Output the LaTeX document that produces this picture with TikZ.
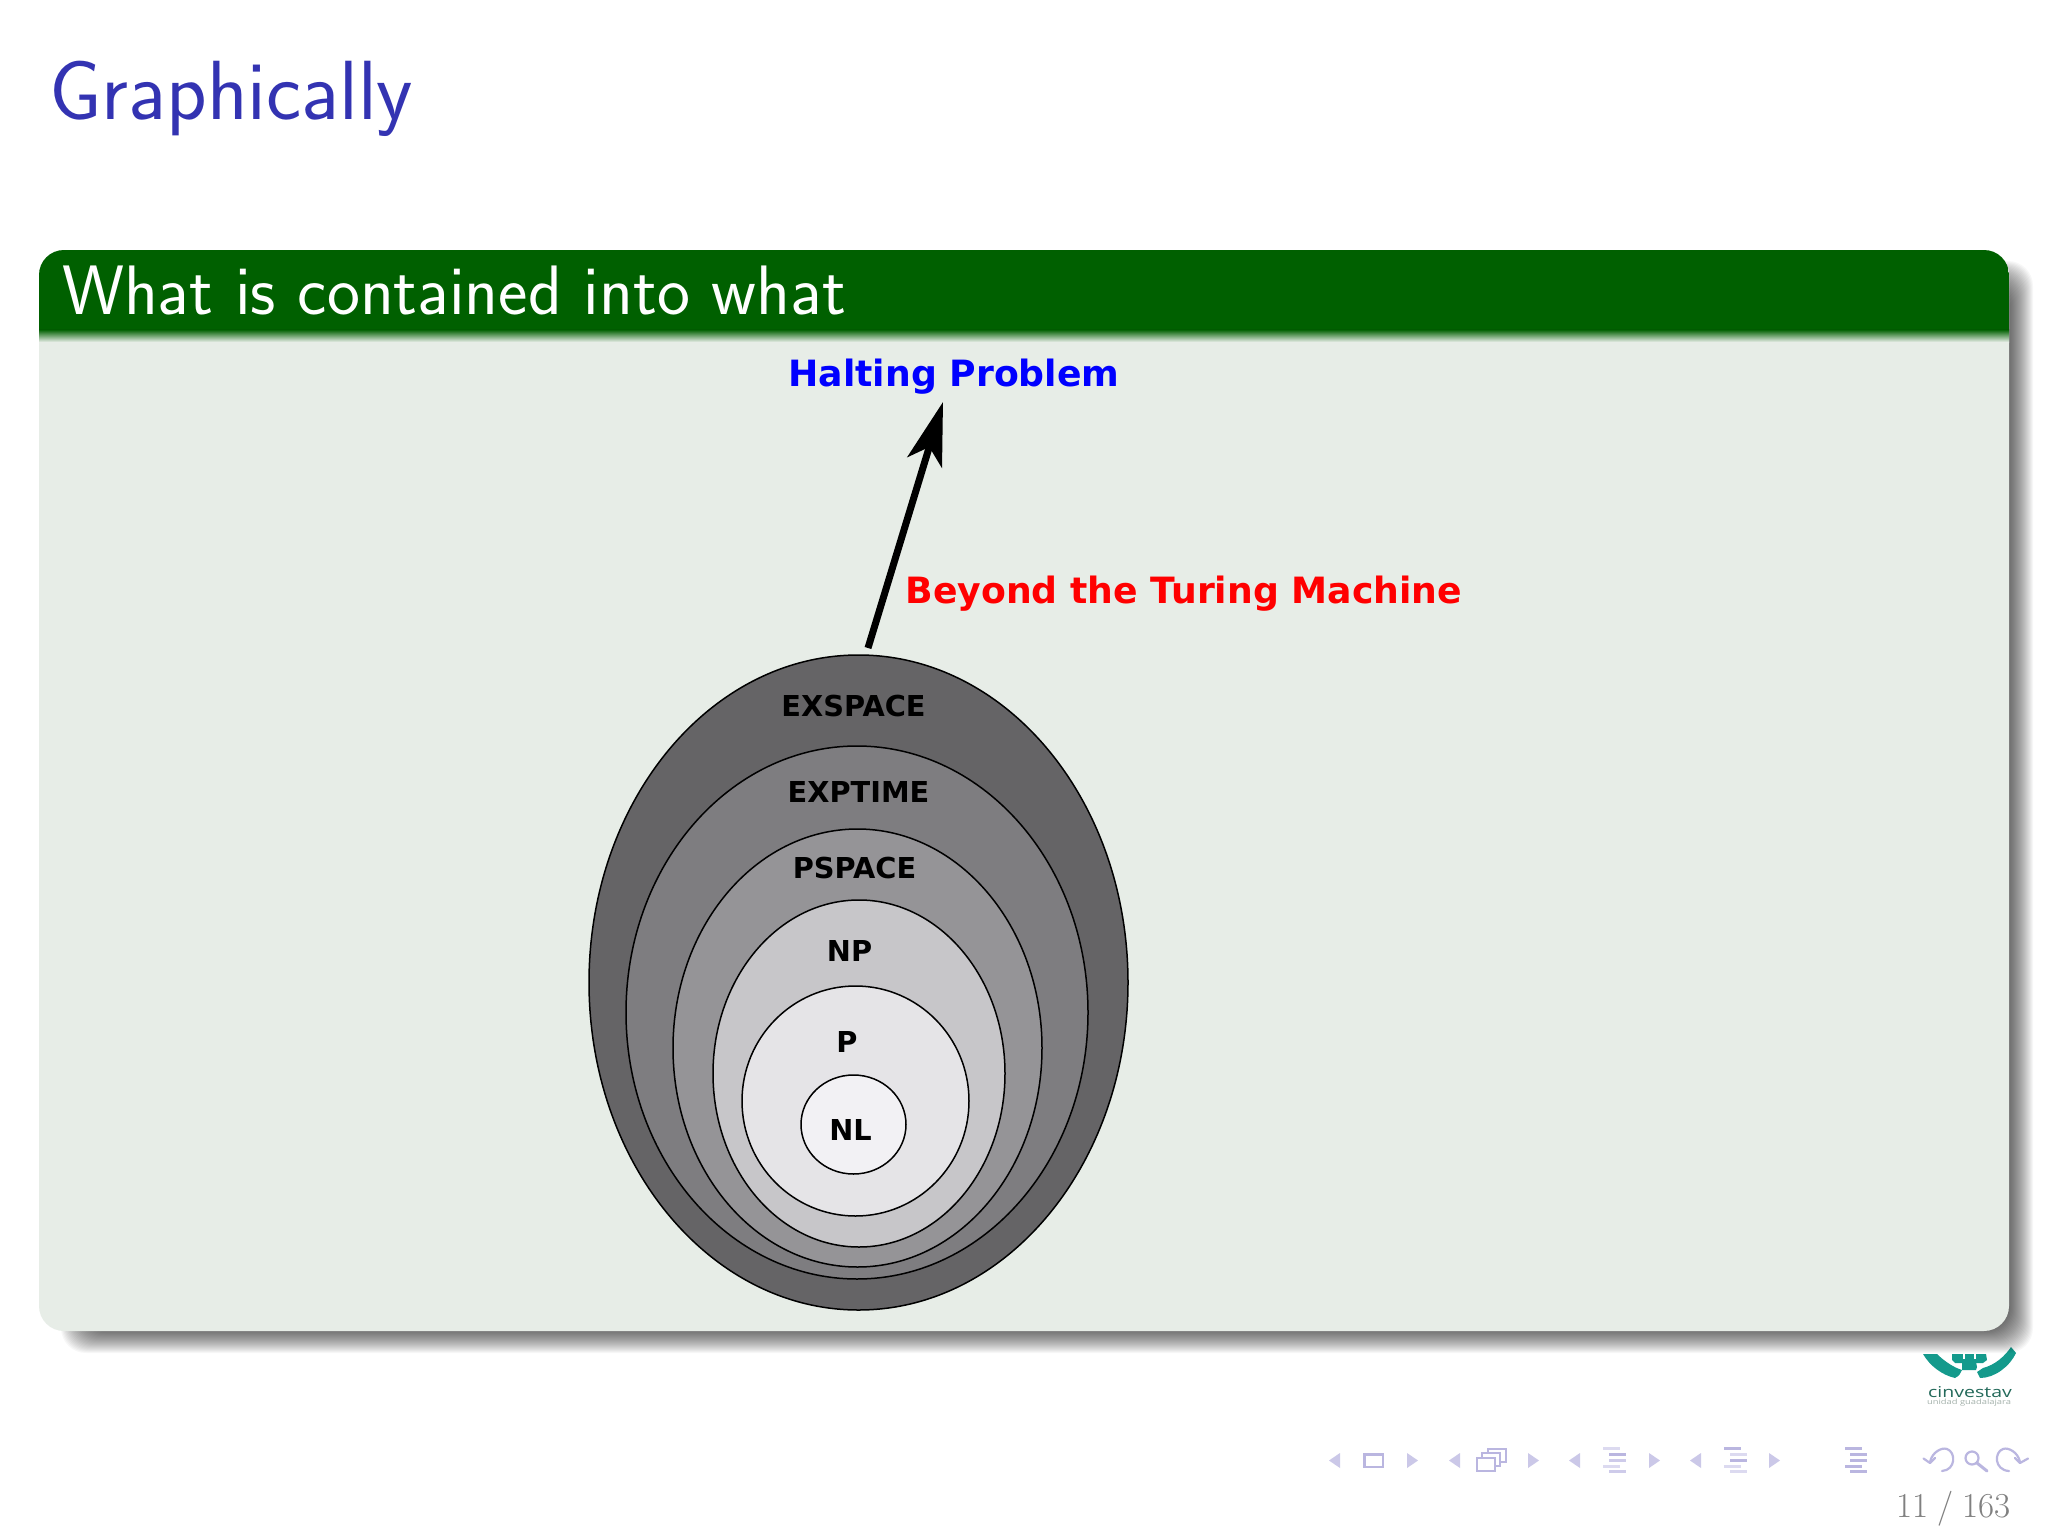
\documentclass[tikz,border=0pt]{standalone}
\usepackage{fontspec}
\usetikzlibrary{arrows.meta,shapes.geometric}
\newfontfamily\dvbfont{DejaVu Sans}
\newfontfamily\logofont{Open Sans}
\definecolor{titleblue}{RGB}{51,51,178}
\definecolor{headgreen}{RGB}{0,96,0}
\definecolor{bodygreen}{RGB}{231,237,231}
\definecolor{navdark}{RGB}{186,182,224}
\definecolor{navlight}{RGB}{220,218,240}
\definecolor{logoteal}{RGB}{20,154,140}
\definecolor{logotext}{RGB}{35,105,90}
\definecolor{logosubtext}{RGB}{165,178,172}
\definecolor{setA}{RGB}{101,100,102}
\definecolor{setB}{RGB}{126,125,128}
\definecolor{setC}{RGB}{149,148,151}
\definecolor{setD}{RGB}{199,198,201}
\definecolor{setE}{RGB}{229,228,231}
\definecolor{setF}{RGB}{242,241,244}
\tikzset{
  every node/.style={inner sep=0pt,outer sep=0pt},
  setnode/.style={ellipse,draw=black,line width=1.5pt},
  setlabel/.style={anchor=base,font=\dvbfont\bfseries\fontsize{28.8}{36}\selectfont,text=black},
  bluelabel/.style={anchor=base west,font=\dvbfont\bfseries\fontsize{36.2}{44}\selectfont,text=blue},
  redlabel/.style={anchor=base west,font=\dvbfont\bfseries\fontsize{36.2}{44}\selectfont,text=red},
  navtri/.style={fill=navdark!75!white,draw=none},
  navline/.style={line width=3pt},
  navcurve/.style={draw=navdark,line width=2.2pt,line cap=round,line join=round},
}
\newcommand{\navL}[1]{\fill[navtri] (#1+11,1453) -- (#1,1460.5) -- (#1+11,1468) -- cycle;}
\newcommand{\navR}[1]{\fill[navtri] (#1,1453) -- (#1+11,1460.5) -- (#1,1468) -- cycle;}
\begin{document}
\begin{tikzpicture}[x=1pt,y=-1pt]
\useasboundingbox (0,0) rectangle (2048,1536);
\fill[white] (0,0) rectangle (2048,1536);

% title
\node[anchor=base west,font=\sffamily\fontsize{84}{100}\selectfont,text=titleblue] (frametitle) at (49,120) {Graphically};

% logo (sits under the shadow)
\fill[logoteal] (1923,1354) .. controls (1930,1366) and (1942,1375) .. (1955,1378)
  .. controls (1959,1376) and (1961,1373) .. (1962,1370)
  .. controls (1955,1368) and (1945,1362) .. (1937,1354) -- cycle;
\fill[logoteal] (2011,1347) .. controls (2005,1356) and (1995,1365) .. (1983,1368)
  -- (1977,1372) -- (1980,1378)
  .. controls (1995,1378) and (2010,1366) .. (2016,1353) -- cycle;
\fill[logoteal] (1952,1354) -- (1952,1360) -- (1955,1363) -- (1983,1363) -- (1987,1360) -- (1986,1354) -- cycle;
\fill[logoteal] (1962,1362) -- (1976,1362) -- (1977,1367) -- (1976,1370) -- (1962,1370) -- cycle;
\fill[white] (1963,1352) rectangle (1965,1359);
\fill[white] (1973.5,1352) rectangle (1975.5,1359);
\node[anchor=base,font=\logofont\fontsize{15}{16}\selectfont,text=logotext] (logoname) at (1970,1397) {\scalebox{1.3}[1]{cinvestav}};
\node[anchor=base,font=\logofont\fontsize{7.2}{8}\selectfont,text=logosubtext] (logosub) at (1969,1404) {\scalebox{1.3}[1]{unidad guadalajara}};

% shadow
\foreach \e in {-12,...,11}{
  \fill[black,opacity=0.031,rounded corners=25pt] (72-\e,272-\e) rectangle (2022+\e,1342+\e);
}
% block
\fill[bodygreen,rounded corners=25pt] (39,250) rectangle (2009,1331);
\begin{scope}
  \clip[rounded corners=25pt] (39,250) rectangle (2009,1331);
  \fill[headgreen] (39,250) rectangle (2009,330);
  \shade[top color=headgreen,bottom color=bodygreen] (39,329.5) rectangle (2009,342);
\end{scope}
\node[anchor=base west,font=\sffamily\fontsize{70}{84}\selectfont,text=white] (blocktitle) at (62,314) {What is contained into what};

% sets
\node[setnode,fill=setA,minimum width=539pt,minimum height=655pt] (exspace) at (858.5,982.5) {};
\node[setnode,fill=setB,minimum width=462pt,minimum height=533pt] (exptime) at (857,1012.5) {};
\node[setnode,fill=setC,minimum width=369pt,minimum height=438pt] (pspace) at (857.5,1048) {};
\node[setnode,fill=setD,minimum width=292pt,minimum height=347pt] (np) at (859,1073.5) {};
\node[setnode,fill=setE,minimum width=227pt,minimum height=230pt] (p) at (855.5,1101) {};
\node[setnode,fill=setF,minimum width=105pt,minimum height=99pt] (nl) at (853.5,1124.5) {};

\node[setlabel] (lexspace) at (853.5,716) {EXSPACE};
\node[setlabel] (lexptime) at (858.5,802) {EXPTIME};
\node[setlabel] (lpspace) at (854.5,878) {PSPACE};
\node[setlabel] (lnp) at (849.5,961) {NP};
\node[setlabel] (lp) at (847,1052) {P};
\node[setlabel] (lnl) at (850.5,1140) {NL};

% labels and arrow
\node[bluelabel] (halting) at (788.5,386) {Halting Problem};
\node[redlabel] (beyond) at (905.5,603) {Beyond the Turing Machine};
\coordinate (arrowfoot) at (868,648);
\coordinate (arrowtip) at (943,402);
\draw[line width=7pt,-{Stealth[length=63pt,width=36pt,inset=16pt]}] (arrowfoot) -- (arrowtip);

% navigation symbols
\navL{1329}
\draw[navdark,line width=2.5pt] (1364.5,1454.5) rectangle (1383,1467);
\navR{1407}
\navL{1449}
\draw[navdark,line width=2pt,fill=white] (1488,1449) rectangle (1506,1462);
\draw[navdark,line width=2pt,fill=white] (1482,1453) rectangle (1500,1466);
\draw[navdark,line width=2.5pt,fill=white] (1477,1458) rectangle (1495,1471);
\navR{1528}
\navL{1569}
\draw[navlight,navline] (1603,1448) -- (1620,1448);
\draw[navdark,navline] (1609,1454) -- (1626,1454);
\draw[navlight!60!navdark,navline] (1609,1460) -- (1626,1460);
\draw[navlight,navline] (1603,1466) -- (1620,1466);
\draw[navlight!60!navdark,navline] (1609,1471) -- (1626,1471);
\navR{1649}
\navL{1690}
\draw[navdark,navline] (1724,1448) -- (1741,1448);
\draw[navlight,navline] (1730,1454) -- (1747,1454);
\draw[navdark,navline] (1730,1460) -- (1747,1460);
\draw[navlight,navline] (1724,1466) -- (1741,1466);
\draw[navlight,navline] (1730,1471) -- (1747,1471);
\navR{1769}
\draw[navdark,navline] (1845,1448) -- (1862,1448);
\draw[navdark,navline] (1850,1454) -- (1867,1454);
\draw[navdark,navline] (1850,1460) -- (1867,1460);
\draw[navdark,navline] (1845,1466) -- (1862,1466);
\draw[navdark,navline] (1850,1471) -- (1867,1471);
% back / search / forward
\draw[navcurve] (1930,1462) .. controls (1932,1452) and (1942,1447) .. (1947,1449) .. controls (1956,1452) and (1956,1470) .. (1942,1471);
\draw[navcurve] (1923.5,1458.5) -- (1930,1463) -- (1935,1458);
\draw[navcurve] (1972,1458) circle (6.5pt);
\draw[navcurve,line width=3pt] (1977,1463) -- (1987,1471);
\draw[navcurve] (2020,1462) .. controls (2018,1452) and (2008,1447) .. (2003,1449) .. controls (1994,1452) and (1994,1470) .. (2009,1471);
\draw[navcurve] (2028,1458.5) -- (2020,1463) -- (2015,1458);

\node[anchor=base east,font=\fontsize{35}{40}\selectfont,text=black!50] (pagenum) at (2011,1517) {11\hspace{9pt}/\hspace{9pt}163};
\end{tikzpicture}
\end{document}
